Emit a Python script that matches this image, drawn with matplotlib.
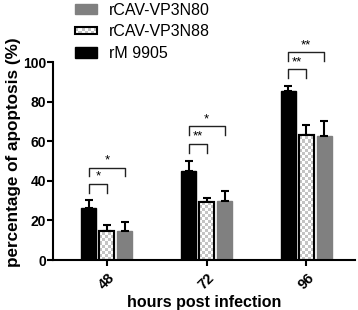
import numpy as np
import matplotlib
matplotlib.use("Agg")
import matplotlib.pyplot as plt
from matplotlib.patches import Rectangle
from matplotlib.legend_handler import HandlerPatch

plt.rcParams['font.family'] = ['Liberation Sans', 'DejaVu Sans']

hours = ["48", "72", "96"]
series = ["rM 9905", "rCAV-VP3N88", "rCAV-VP3N80"]
rm9905 = [26.5, 45.0, 85.5]
rm9905_err = [3.8, 4.8, 2.3]
n88 = [14.5, 29.2, 63.2]
n88_err = [3.0, 2.2, 4.8]
n80 = [14.6, 29.7, 62.7]
n80_err = [4.6, 5.3, 7.4]

# significance brackets: group, compared bar (1 = N88, 2 = N80), height, label
sig_group = [0, 0, 1, 1, 2, 2]
sig_bar = [1, 2, 1, 2, 1, 2]
sig_height = [38.5, 46.7, 58.7, 67.5, 96.5, 105.0]
sig_label = ["*", "*", "**", "*", "**", "**"]

GRAY = "#808080"
CHECK = "#c4c4c4"

fig = plt.figure(figsize=(3.58, 3.10), dpi=100)
ax = fig.add_axes([0.148, 0.161, 0.844, 0.639])

x = np.arange(len(hours))
off = 0.18
w = 0.15
err_kw = dict(ecolor="black", elinewidth=1.5, capsize=3, capthick=1.5)

ax.bar(x - off, rm9905, w, color="black", edgecolor="black",
       yerr=[np.zeros(3), rm9905_err], error_kw=err_kw, zorder=2)
chk = ax.bar(x, n88, w, color="white", edgecolor="black", linewidth=1.5,
             yerr=[np.zeros(3), n88_err], error_kw=err_kw, zorder=2)
ax.bar(x + off, n80, w, color=GRAY, edgecolor=GRAY,
       yerr=[np.zeros(3), n80_err], error_kw=err_kw, zorder=2)

# checkerboard fill for the N88 bars
cell_x, cell_y = 0.03, 1.55
for p in chk.patches:
    x0, y0 = p.get_x(), p.get_y()
    bw, bh = p.get_width(), p.get_height()
    nx = int(np.ceil(bw / cell_x))
    ny = int(np.ceil(bh / cell_y))
    board = (np.add.outer(np.arange(ny), np.arange(nx)) % 2).astype(float)
    im = ax.imshow(board, cmap=matplotlib.colors.ListedColormap(["white", CHECK]),
                   extent=[x0, x0 + nx * cell_x, y0, y0 + ny * cell_y],
                   origin="lower", interpolation="nearest", aspect="auto", zorder=2.1)
    im.set_clip_path(p)
    edge = Rectangle((x0, y0), bw, bh, facecolor="none", edgecolor="black",
                     linewidth=1.5, zorder=2.2)
    ax.add_patch(edge)

# brackets
leg = 4.5
for g, b, h, lab in zip(sig_group, sig_bar, sig_height, sig_label):
    xa = x[g] - off
    xb = x[g] + (0 if b == 1 else off)
    ax.plot([xa, xa, xb, xb], [h - leg, h, h, h - leg], color="#222222",
            lw=1.0, clip_on=False, zorder=3)
    ax.text((xa + xb) / 2, h + 0.5, lab, ha="center", va="bottom",
            fontsize=9.5, clip_on=False)

ax.set_xlim(-0.54, 2.49)
ax.set_ylim(0, 100)
ax.set_yticks([0, 20, 40, 60, 80, 100])
ax.set_xticks(x)
ax.set_xticklabels(hours, rotation=45, fontweight="bold", fontsize=10.5)
for t in ax.get_yticklabels():
    t.set_fontweight("bold")
    t.set_fontsize(10)
ax.spines["top"].set_visible(False)
ax.spines["right"].set_visible(False)
ax.spines["left"].set_linewidth(1.5)
ax.spines["bottom"].set_linewidth(1.5)
ax.tick_params(width=1.5, length=4)
ax.tick_params(axis="y", pad=1)
ax.set_xlabel("hours post infection", fontweight="bold", fontsize=11.5, labelpad=2)
ax.set_ylabel("percentage of apoptosis (%)", fontweight="bold", fontsize=12.3)
ax.yaxis.set_label_coords(-0.106, 0.545)


class CheckerHandler(HandlerPatch):
    def create_artists(self, legend, orig_handle, xdescent, ydescent,
                       width, height, fontsize, trans):
        hh = height * 0.7
        y0 = -ydescent + (height - hh) / 2
        x0 = -xdescent
        arts = [Rectangle((x0, y0), width, hh,
                          facecolor="white", edgecolor="none", transform=trans)]
        n, m = 7, 2
        cw, ch = width / n, hh / m
        for i in range(n):
            for j in range(m):
                if (i + j) % 2:
                    arts.append(Rectangle((x0 + i * cw, y0 + j * ch), cw, ch,
                                          facecolor=CHECK, edgecolor="none", transform=trans))
        arts.append(Rectangle((x0, y0), width, hh,
                              facecolor="none", edgecolor="black", lw=1.5, transform=trans))
        return arts


h80 = Rectangle((0, 0), 1, 1, facecolor=GRAY, edgecolor=GRAY)
h88 = Rectangle((0, 0), 1, 1, facecolor="white", edgecolor="black")
h05 = Rectangle((0, 0), 1, 1, facecolor="black", edgecolor="black")
fig.legend([h80, h88, h05], [series[2], series[1], series[0]],
           handler_map={h88: CheckerHandler()},
           loc="upper left", bbox_to_anchor=(0.192, 1.012), frameon=False,
           fontsize=11.5, handlelength=1.4, handleheight=0.6,
           handletextpad=0.7, labelspacing=0.42, borderaxespad=0)

fig.savefig("out.png", dpi=100)
